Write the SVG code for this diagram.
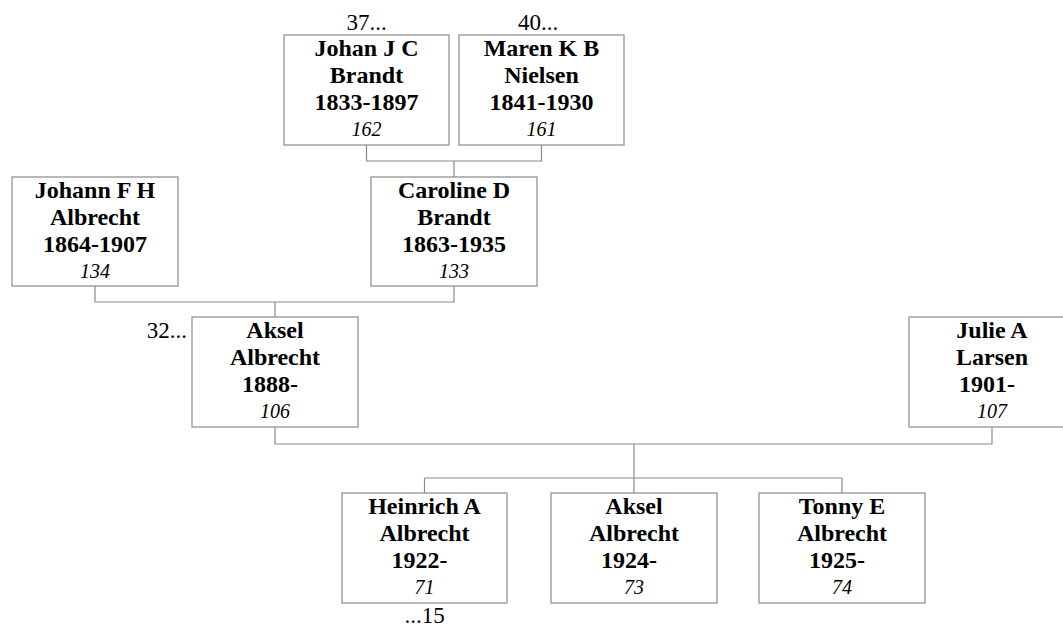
<svg xmlns="http://www.w3.org/2000/svg" width="1063" height="628" viewBox="0 0 1063 628">
<style>
.box{fill:#fff;stroke:#8a8a8a;stroke-width:1.2}
.ln{fill:none;stroke:#8a8a8a;stroke-width:1.2}
.b{font-family:"Liberation Serif",serif;font-weight:bold;font-size:24px;text-anchor:middle;fill:#000}
.i{font-family:"Liberation Serif",serif;font-style:italic;font-size:20px;text-anchor:middle;fill:#000}
.r{font-family:"Liberation Serif",serif;font-size:23px;fill:#000}
</style>
<rect width="1063" height="628" fill="#fff"/>
<g id="connectors">
<path class="ln" d="M366.5 145V161H541.5V145M454 161V177"/>
<path class="ln" d="M95 286V302H454V286M275 302V317"/>
<path class="ln" d="M275 427V444H992V427M634 444V493M424.5 478H842M424.5 478V493M842 478V493"/>
</g>
<g id="n162">
<rect class="box" x="284" y="35" width="165" height="110"/>
<text class="b" x="366.5" y="56">Johan J C</text>
<text class="b" x="366.5" y="83">Brandt</text>
<text class="b" x="366.5" y="110">1833-1897</text>
<text class="i" x="366.5" y="136">162</text>
<text class="r" x="366.5" y="30" text-anchor="middle">37...</text>
</g>
<g id="n161">
<rect class="box" x="459" y="35" width="165" height="110"/>
<text class="b" x="541.5" y="56">Maren K B</text>
<text class="b" x="541.5" y="83">Nielsen</text>
<text class="b" x="541.5" y="110">1841-1930</text>
<text class="i" x="541.5" y="136">161</text>
<text class="r" x="538" y="30" text-anchor="middle">40...</text>
</g>
<g id="n134">
<rect class="box" x="12" y="177" width="166" height="109"/>
<text class="b" x="95" y="198">Johann F H</text>
<text class="b" x="95" y="225">Albrecht</text>
<text class="b" x="95" y="252">1864-1907</text>
<text class="i" x="95" y="278">134</text>
</g>
<g id="n133">
<rect class="box" x="371" y="177" width="166" height="109"/>
<text class="b" x="454" y="198">Caroline D</text>
<text class="b" x="454" y="225">Brandt</text>
<text class="b" x="454" y="252">1863-1935</text>
<text class="i" x="454" y="278">133</text>
</g>
<g id="n106">
<rect class="box" x="192" y="317" width="166" height="110"/>
<text class="b" x="275" y="338">Aksel</text>
<text class="b" x="275" y="365">Albrecht</text>
<text class="b" x="270" y="392">1888-</text>
<text class="i" x="275" y="418">106</text>
<text class="r" x="187" y="338" text-anchor="end">32...</text>
</g>
<g id="n107">
<rect class="box" x="909" y="317" width="166" height="110"/>
<text class="b" x="992" y="338">Julie A</text>
<text class="b" x="992" y="365">Larsen</text>
<text class="b" x="987" y="392">1901-</text>
<text class="i" x="992" y="418">107</text>
</g>
<g id="n71">
<rect class="box" x="342" y="493" width="165" height="110"/>
<text class="b" x="424.5" y="514">Heinrich A</text>
<text class="b" x="424.5" y="541">Albrecht</text>
<text class="b" x="419.5" y="568">1922-</text>
<text class="i" x="424.5" y="594">71</text>
<text class="r" x="424.5" y="623" text-anchor="middle">...15</text>
</g>
<g id="n73">
<rect class="box" x="551" y="493" width="166" height="110"/>
<text class="b" x="634" y="514">Aksel</text>
<text class="b" x="634" y="541">Albrecht</text>
<text class="b" x="629" y="568">1924-</text>
<text class="i" x="634" y="594">73</text>
</g>
<g id="n74">
<rect class="box" x="759" y="493" width="166" height="110"/>
<text class="b" x="842" y="514">Tonny E</text>
<text class="b" x="842" y="541">Albrecht</text>
<text class="b" x="837" y="568">1925-</text>
<text class="i" x="842" y="594">74</text>
</g>
</svg>
